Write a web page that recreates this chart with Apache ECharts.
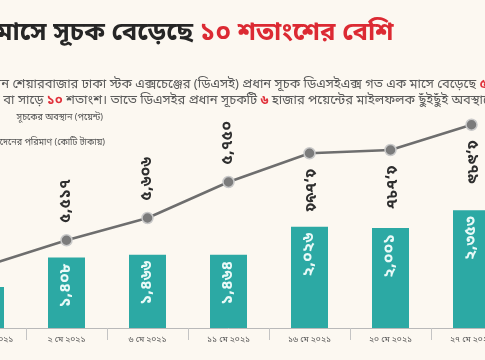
<!DOCTYPE html>
<html>
<head>
<meta charset="utf-8">
<script src="https://cdn.jsdelivr.net/npm/echarts@6/dist/echarts.min.js"></script>
<style>
html,body{margin:0;padding:0;background:#fcf8f1;overflow:hidden;width:485px;height:360px;position:relative;}
#c{position:absolute;left:-55px;top:0;width:567px;height:360px;}
</style>
</head>
<body>
<div id="c"></div>
<script>
var categories = ["২৯ এপ্রিল ২০২১", "২ মে ২০২১", "৬ মে ২০২১", "১১ মে ২০২১", "১৬ মে ২০২১", "২০ মে ২০২১", "২৭ মে ২০২১"];
var indexValues = [5414, 5517, 5606, 5750, 5865, 5878, 5979];
var indexLabels = ["৫,৪১৪", "৫,৫১৭", "৫,৬০৬", "৫,৭৫০", "৫,৮৬৫", "৫,৮৭৮", "৫,৯৭৯"];
var turnoverValues = [820, 1408, 1466, 1464, 2026, 2001, 2353];
var turnoverLabels = ["৮২০", "১,৪০৮", "১,৪৬৬", "১,৪৬৪", "২,০২৬", "২,০০১", "২,৩৫৩"];

var FONT = "'Noto Sans Bengali','Noto Sans','DejaVu Sans',sans-serif";
var OX = 55; // container offset

var lineData = indexValues.map(function (v, i) {
  var above = i <= 3;
  return {
    value: v,
    label: above ? {
      position: 'top', rotate: 90, align: 'left', verticalAlign: 'middle', distance: 11
    } : {
      position: 'bottom', rotate: -90, align: 'left', verticalAlign: 'middle', distance: 9
    }
  };
});

var chart = echarts.init(document.getElementById('c'), null, {renderer: 'canvas'});
chart.setOption({
  backgroundColor: '#fcf8f1',
  animation: false,
  textStyle: {fontFamily: FONT},
  graphic: [
    {type: 'text', x: OX - 50, y: 35, style: {
      text: '{a|এক মাসে সূচক বেড়েছে }{b|১০ শতাংশের বেশি}',
      verticalAlign: 'middle',
      rich: {
        a: {fontSize: 25.7, fontWeight: 'bold', fill: '#262626', fontFamily: FONT},
        b: {fontSize: 25.7, fontWeight: 'bold', fill: '#dc2a33', fontFamily: FONT}
      }
    }},
    {type: 'text', x: OX - 56, y: 85, style: {
      text: '{a|দেশের প্রধান শেয়ারবাজার ঢাকা স্টক এক্সচেঞ্জের (ডিএসই) প্রধান সূচক ডিএসইএক্স গত এক মাসে বেড়েছে }{b|৫৬২}',
      verticalAlign: 'middle',
      rich: {
        a: {fontSize: 13, fill: '#5a5a5a', fontFamily: FONT},
        b: {fontSize: 13, fontWeight: 'bold', fill: '#e0313b', fontFamily: FONT}
      }
    }},
    {type: 'text', x: OX - 33, y: 101, style: {
      text: '{a|পয়েন্ট বা সাড়ে }{b|১০}{a| শতাংশ। তাতে ডিএসইর প্রধান সূচকটি }{b|৬}{a| হাজার পয়েন্টের মাইলফলক ছুঁইছুঁই অবস্থানে}',
      verticalAlign: 'middle',
      rich: {
        a: {fontSize: 13, fill: '#5a5a5a', fontFamily: FONT},
        b: {fontSize: 13, fontWeight: 'bold', fill: '#e0313b', fontFamily: FONT}
      }
    }},
    {type: 'text', x: OX + 103, y: 118, style: {
      text: 'সূচকের অবস্থান (পয়েন্ট)', fontSize: 9, fill: '#555', fontFamily: FONT,
      align: 'right', verticalAlign: 'middle'
    }},
    {type: 'text', x: OX + 105, y: 143, style: {
      text: 'লেনদেনের পরিমাণ (কোটি টাকায়)', fontSize: 9, fill: '#555', fontFamily: FONT,
      align: 'right', verticalAlign: 'middle'
    }}
  ],
  grid: {left: 0, right: 0, top: 100, bottom: 32, containLabel: false},
  xAxis: {
    type: 'category',
    data: categories,
    boundaryGap: true,
    axisLine: {lineStyle: {color: '#b9b9b9', width: 1}},
    axisTick: {show: true, length: 12, lineStyle: {color: '#c4c4c4'}},
    axisLabel: {fontSize: 8.5, color: '#555', margin: 8, interval: 0, fontFamily: FONT},
    splitLine: {show: false}
  },
  yAxis: [
    {type: 'value', min: 0, max: 4560, show: false, splitLine: {show: false}},
    {type: 'value', min: 5166, max: 6078, show: false, splitLine: {show: false}}
  ],
  series: [
    {
      type: 'bar',
      yAxisIndex: 0,
      data: turnoverValues,
      barWidth: 37,
      itemStyle: {color: '#2ca9a4'},
      label: {
        show: true, position: 'insideTop', rotate: 90, align: 'right', verticalAlign: 'middle',
        distance: 6, color: '#eafaf8', fontSize: 16, fontWeight: 'bold', fontFamily: FONT,
        formatter: function (p) { return turnoverLabels[p.dataIndex]; }
      },
      z: 2
    },
    {
      type: 'line',
      yAxisIndex: 1,
      data: lineData,
      symbol: 'circle',
      symbolSize: 11,
      lineStyle: {color: '#6e6e6e', width: 2.5},
      itemStyle: {color: '#7b7b7b', borderColor: '#c9c9c9', borderWidth: 1.5},
      label: {
        show: true, color: '#2e2e2e', fontSize: 16, fontWeight: 'bold', fontFamily: FONT,
        formatter: function (p) { return indexLabels[p.dataIndex]; }
      },
      z: 3
    }
  ]
});
</script>
</body>
</html>
